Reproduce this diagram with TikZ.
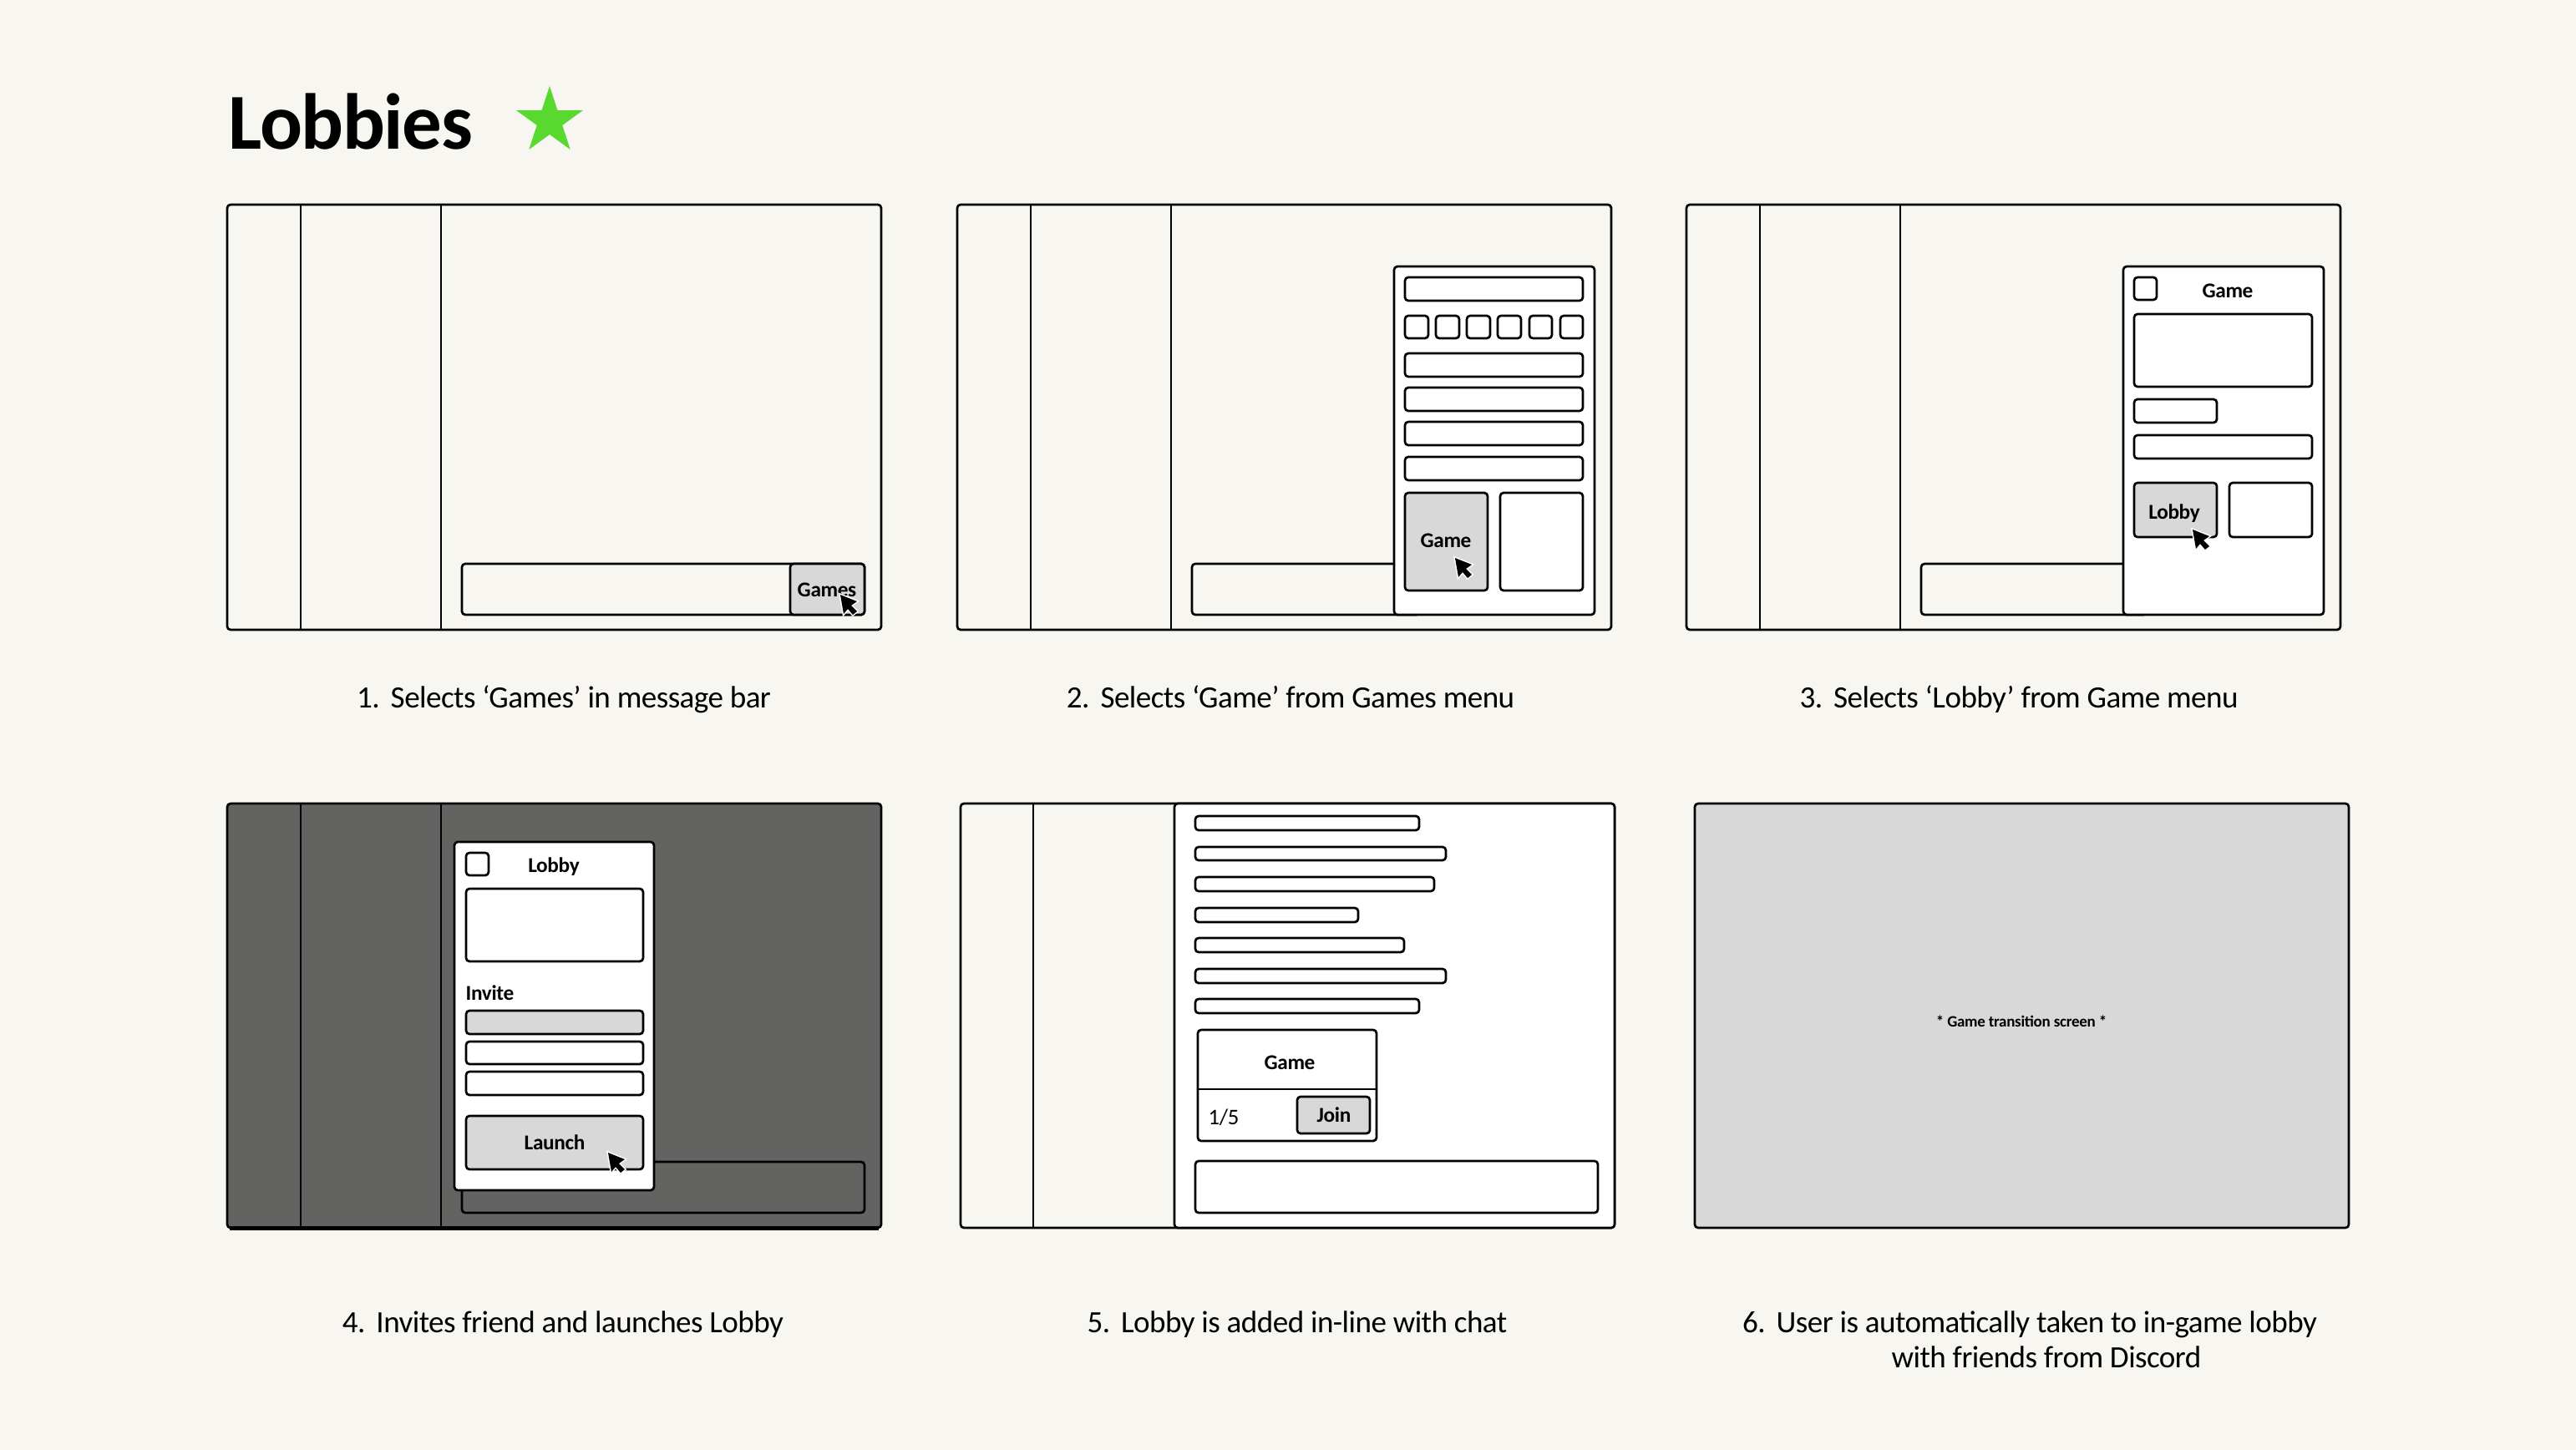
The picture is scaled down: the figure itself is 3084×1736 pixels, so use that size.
\documentclass[tikz,border=0pt]{standalone}
\usepackage{fontspec}
\setmainfont{Carlito}[LetterSpace=-1.5]
\usetikzlibrary{shapes.geometric}
\definecolor{paper}{HTML}{F7F6F1}
\definecolor{pressed}{HTML}{D8D8D8}
\definecolor{dimmed}{HTML}{636361}
\definecolor{starfill}{HTML}{59D92F}
\tikzset{
  frame/.style={draw=black, line width=0.027cm, rounded corners=0.04cm, fill=paper},
  box/.style={draw=black, line width=0.027cm, rounded corners=0.04cm, fill=white},
  hit/.style={box, fill=pressed},
  rule/.style={draw=black, line width=0.028cm},
  caption/.style={font=\fontsize{10.55}{13}\selectfont, anchor=base, inner sep=0pt},
  tag/.style={font=\bfseries\fontsize{7.2}{9}\selectfont, anchor=base, inner sep=0pt},
}
\newcommand{\cursorat}[2]{%
  \fill[black, preaction={draw=white, line width=0.03cm}, shift={(#1,#2)}]
    (0,0) -- (20,8) -- (13,13) -- (20,20) -- (15,24) -- (9,17) -- (4,23) -- cycle;
}
\newcommand{\numgap}{\hspace{0.35em}}
\begin{document}
\begin{tikzpicture}[x=0.01cm, y=-0.01cm]
    \fill[paper] (0,0) rectangle (3084,1736);

    % title
    \node[anchor=base west, inner sep=0pt, font=\bfseries\fontsize{27}{32}\selectfont] (title) at (273,178) {Lobbies};
    \node[star, star points=5, star point ratio=2.618, fill=starfill, inner sep=0pt, minimum size=0.84cm] (badge) at (658,145) {};

    % 1 message bar
    \draw[frame] (272,245) rectangle (1055,754);
    \draw[rule] (360,245) -- (360,754);
    \draw[rule] (528,245) -- (528,754);
    \draw[frame] (553,675) rectangle (1035,736);
    \draw[hit] (946,675) rectangle (1035,736);
    \node[tag] (games) at (990,714) {Games};
    \cursorat{1006}{712}
    \node[caption] (cap1) at (675,847) {1.\numgap Selects ‘Games’ in message bar};

    % 2 games menu
    \draw[frame] (1146,245) rectangle (1929,754);
    \draw[rule] (1234,245) -- (1234,754);
    \draw[rule] (1402,245) -- (1402,754);
    \draw[frame] (1427,675) rectangle (1700,736);
    \draw[box] (1669,319) rectangle (1909,736);
    \draw[box] (1682,332) rectangle (1895,360);
    \draw[box] (1682,378) rectangle (1710,405);
    \draw[box] (1719,378) rectangle (1747,405);
    \draw[box] (1756,378) rectangle (1784,405);
    \draw[box] (1793,378) rectangle (1821,405);
    \draw[box] (1831,378) rectangle (1858,405);
    \draw[box] (1868,378) rectangle (1895,405);
    \draw[box] (1682,423) rectangle (1895,451);
    \draw[box] (1682,464) rectangle (1895,492);
    \draw[box] (1682,505) rectangle (1895,533);
    \draw[box] (1682,547) rectangle (1895,575);
    \draw[hit] (1682,590) rectangle (1781,707);
    \draw[box] (1796,590) rectangle (1895,707);
    \node[tag] (game2) at (1731,655) {Game};
    \cursorat{1742}{668}
    \node[caption] (cap2) at (1545,847) {2.\numgap Selects ‘Game’ from Games menu};

    % 3 game menu
    \draw[frame] (2019,245) rectangle (2802,754);
    \draw[rule] (2107,245) -- (2107,754);
    \draw[rule] (2275,245) -- (2275,754);
    \draw[frame] (2300,675) rectangle (2570,736);
    \draw[box] (2542,319) rectangle (2782,736);
    \draw[box] (2555,332) rectangle (2582,359);
    \node[tag] (game3) at (2667,356) {Game};
    \draw[box] (2555,376) rectangle (2768,463);
    \draw[box] (2555,478) rectangle (2654,506);
    \draw[box] (2555,521) rectangle (2768,549);
    \draw[hit] (2555,578) rectangle (2654,643);
    \draw[box] (2669,578) rectangle (2768,643);
    \node[tag] (lobby3) at (2603,621) {Lobby};
    \cursorat{2625}{634}
    \node[caption] (cap3) at (2417,847) {3.\numgap Selects ‘Lobby’ from Game menu};

    % 4 lobby popup
    \draw[frame, fill=dimmed] (272,962) rectangle (1055,1470);
    \draw[rule] (360,962) -- (360,1470);
    \draw[rule] (528,962) -- (528,1470);
    \draw[rule, line width=0.05cm] (275,1470) -- (1052,1470);
    \draw[frame, fill=dimmed] (553,1391) rectangle (1035,1452);
    \draw[box] (544,1008) rectangle (783,1425);
    \draw[box] (558,1021) rectangle (585,1048);
    \node[tag] (lobby4) at (663,1044) {Lobby};
    \draw[box] (558,1064) rectangle (770,1151);
    \node[tag, anchor=base west] (invite) at (557,1197) {Invite};
    \draw[hit] (558,1210) rectangle (770,1238);
    \draw[box] (558,1247) rectangle (770,1274);
    \draw[box] (558,1283) rectangle (770,1311);
    \draw[hit] (558,1336) rectangle (770,1400);
    \node[tag] (launch) at (664,1376) {Launch};
    \cursorat{728}{1380}
    \node[caption] (cap4) at (674,1595) {4.\numgap Invites friend and launches Lobby};

    % 5 chat
    \draw[frame] (1150,962) rectangle (1933,1470);
    \draw[box] (1406,962) rectangle (1933,1470);
    \draw[rule] (1237,962) -- (1237,1470);
    \draw[box] (1431,977) rectangle (1699,994);
    \draw[box] (1431,1014) rectangle (1731,1030);
    \draw[box] (1431,1050) rectangle (1717,1067);
    \draw[box] (1431,1087) rectangle (1626,1104);
    \draw[box] (1431,1123) rectangle (1681,1140);
    \draw[box] (1431,1160) rectangle (1731,1177);
    \draw[box] (1431,1196) rectangle (1699,1213);
    \draw[box] (1434,1233) rectangle (1648,1366);
    \draw[rule] (1434,1304) -- (1648,1304);
    \node[tag] (game5) at (1544,1280) {Game};
    \node[tag, anchor=base west, font=\fontsize{7.6}{9}\selectfont] (slots) at (1446,1346) {1/5};
    \draw[hit] (1553,1313) rectangle (1640,1357);
    \node[tag] (join) at (1597,1343) {Join};
    \draw[box] (1431,1390) rectangle (1913,1452);
    \node[caption] (cap5) at (1553,1595) {5.\numgap Lobby is added in-line with chat};

    % 6 transition
    \draw[frame, fill=pressed] (2029,962) rectangle (2812,1470);
    \node[tag, font=\bfseries\fontsize{5.4}{6}\selectfont] (transition) at (2420,1229) {* Game transition screen *};
    \node[caption] (cap6) at (2430,1595) {6.\numgap User is automatically taken to in-game lobby};
    \node[caption] (cap6b) at (2450,1637) {with friends from Discord};
\end{tikzpicture}
\end{document}
